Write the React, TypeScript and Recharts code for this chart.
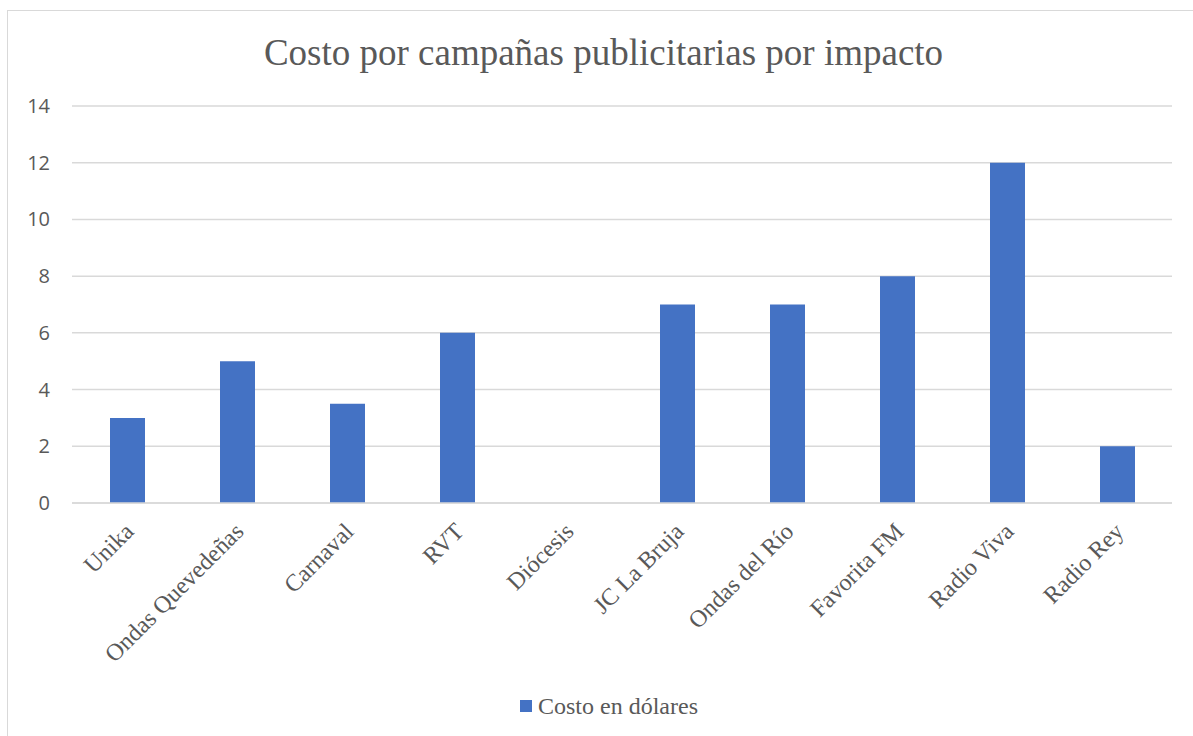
import { Bar, BarChart, CartesianGrid, Legend, XAxis, YAxis } from "recharts";

const CATEGORIES = [
  "Unika",
  "Ondas Quevedeñas",
  "Carnaval",
  "RVT",
  "Diócesis",
  "JC La Bruja",
  "Ondas del Río",
  "Favorita FM",
  "Radio Viva",
  "Radio Rey",
];
const COSTS = [3, 5, 3.5, 6, 0, 7, 7, 8, 12, 2];
const Y_TICKS = [0, 2, 4, 6, 8, 10, 12, 14];
const SERIES_NAME = "Costo en dólares";

const data = CATEGORIES.map((name, i) => ({ name, cost: COSTS[i] }));

const BLUE = "#4472C4";
const GRID = "#d9d9d9";
const TEXT = "#595959";
const SERIF = "'Liberation Serif', 'Times New Roman', serif";

function CategoryTick(props: any) {
  const { x, y, payload } = props;
  const ax = x + 8;
  const ay = y + 22;
  return (
    <text
      x={ax}
      y={ay}
      transform={`rotate(-45, ${ax}, ${ay})`}
      textAnchor="end"
      fill={TEXT}
      fontFamily={SERIF}
      fontSize={24}
    >
      {payload.value}
    </text>
  );
}

function ValueTick(props: any) {
  const { x, y, payload } = props;
  return (
    <text
      x={x}
      y={y}
      dy={7}
      textAnchor="end"
      fill={TEXT}
      fontFamily="'Open Sans', sans-serif"
      fontSize={20}
    >
      {payload.value}
    </text>
  );
}

function LegendBox() {
  return (
    <div
      style={{
        display: "flex",
        justifyContent: "center",
        alignItems: "center",
        paddingLeft: 24,
        fontFamily: SERIF,
        fontSize: 24,
        lineHeight: "28px",
        color: TEXT,
      }}
    >
      <span style={{ width: 12, height: 12, background: BLUE, marginRight: 6, display: "inline-block" }} />
      {SERIES_NAME}
    </div>
  );
}

export default function App() {
  return (
    <div style={{ position: "fixed", left: 0, top: 0, width: 1193, height: 736, overflow: "hidden", background: "#fff" }}>
      <div
        style={{
          position: "absolute",
          left: 7,
          top: 10,
          width: 1210,
          height: 760,
          border: `1px solid ${GRID}`,
        }}
      />
      <div
        style={{
          position: "absolute",
          left: 0,
          top: 34,
          width: 1207,
          textAlign: "center",
          fontFamily: SERIF,
          fontSize: 37,
          lineHeight: "37px",
          color: TEXT,
        }}
      >
        Costo por campañas publicitarias por impacto
      </div>
      <div style={{ position: "absolute", left: 0, top: 0 }}>
        <BarChart
          width={1193}
          height={736}
          data={data}
          margin={{ top: 106, right: 21, bottom: 16, left: 22 }}
          barSize={35}
        >
          <CartesianGrid vertical={false} stroke={GRID} strokeWidth={1.5} />
          <XAxis
            dataKey="name"
            interval={0}
            height={189}
            axisLine={{ stroke: GRID, strokeWidth: 1.5 }}
            tickLine={false}
            tick={<CategoryTick />}
          />
          <YAxis
            width={50}
            domain={[0, 14]}
            ticks={Y_TICKS}
            axisLine={false}
            tickLine={false}
            tickMargin={16}
            tick={<ValueTick />}
          />
          <Legend verticalAlign="bottom" content={<LegendBox />} />
          <Bar dataKey="cost" name={SERIES_NAME} fill={BLUE} isAnimationActive={false} />
        </BarChart>
      </div>
    </div>
  );
}
